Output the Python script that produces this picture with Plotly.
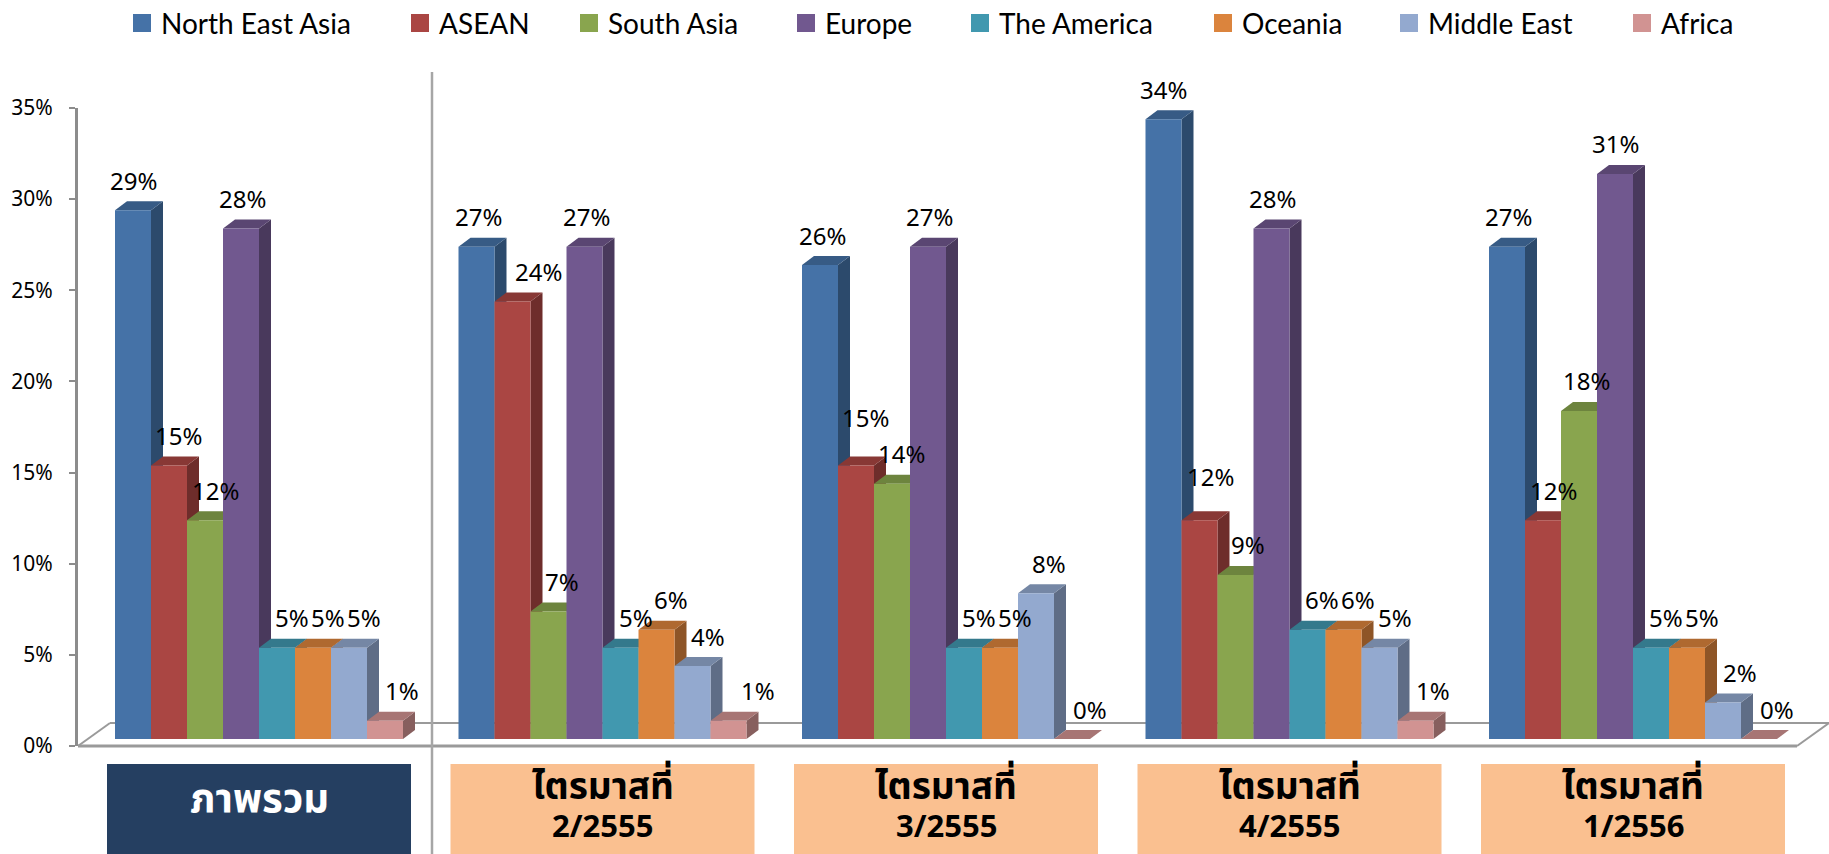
import plotly.graph_objects as go

# ---- data -------------------------------------------------------------
category_titles = ["ภาพรวม", "ไตรมาสที่", "ไตรมาสที่", "ไตรมาสที่", "ไตรมาสที่"]
category_periods = ["", "2/2555", "3/2555", "4/2555", "1/2556"]
regions = ["North East Asia", "ASEAN", "South Asia", "Europe",
           "The America", "Oceania", "Middle East", "Africa"]

north_east_asia = [29, 27, 26, 34, 27]
asean = [15, 24, 15, 12, 12]
south_asia = [12, 7, 14, 9, 18]
europe = [28, 27, 27, 28, 31]
the_america = [5, 5, 5, 6, 5]
oceania = [5, 6, 5, 6, 5]
middle_east = [5, 4, 8, 5, 2]
africa = [1, 1, 0, 1, 0]

series = [north_east_asia, asean, south_asia, europe,
          the_america, oceania, middle_east, africa]
colors = ["#4572A7", "#AA4643", "#89A54E", "#71588F",
          "#4198AF", "#DB843D", "#93A9CF", "#D19392"]
y_ticks = [0, 5, 10, 15, 20, 25, 30, 35]
y_tick_labels = [f"{t}%" for t in y_ticks]

# ---- layout geometry (pixels) -----------------------------------------
W, H = 1829, 854
L, R, T, B = 78, 1797, 108, 746          # plot area
Y_MAX = 35
PX_PCT = (B - T) / Y_MAX                 # pixels per percentage point
BASE_LIFT = 7                            # bars stand slightly behind the floor's front edge
CAT_STEP = 343.5                         # pixels between category centres
FIRST_CENTER = 259
BAR_PX = 36
DEPTH_X, DEPTH_Y = 12, 9                 # 3-D depth of the bars
X_MIN = (L - FIRST_CENTER) / CAT_STEP
X_MAX = (R - FIRST_CENTER) / CAT_STEP

bar_w = BAR_PX / CAT_STEP
group_w = bar_w * len(series)
dx = DEPTH_X / CAT_STEP
dy = DEPTH_Y / PX_PCT

# hand-placed value labels that were moved clear of their neighbours (px)
LABEL_NUDGE = {(1, "ASEAN"): (22, 0), (1, "Africa"): (12, 0),
               (2, "ASEAN"): (0, 18), (3, "ASEAN"): (0, 14)}

THAI_FONT = "Noto Sans Thai, Tahoma, Noto Sans, sans-serif"
LABEL_FONT = "Noto Sans, DejaVu Sans, sans-serif"


def px_x(px):
    return (px - L) / (R - L)


def px_y(py):
    return (B - py) / (B - T)


def darker(hex_color, k):
    h = hex_color.lstrip("#")
    r, g, b = (int(h[i:i + 2], 16) for i in (0, 2, 4))
    return "#{:02X}{:02X}{:02X}".format(int(r * k), int(g * k), int(b * k))


def label_lean(v):
    # perspective: labels of short bars sit further toward the bar's right
    return max(0.0, 18 - 0.6 * v)


fig = go.Figure()
shapes = []
annotations = []

# floor of the 3-D plot
floor = "M {} {} L {} {} L {} {} L {} {} Z".format(
    px_x(L), px_y(B), px_x(L + 32), px_y(723),
    px_x(W), px_y(723), px_x(R), px_y(B))
shapes.append(dict(type="path", xref="paper", yref="paper", path=floor,
                   fillcolor="white", line=dict(width=0), layer="below"))
for (a, b_), (c, d), wdt in [((L, B), (L + 32, 723), 2),
                             ((L + 32, 723), (W, 723), 2),
                             ((R, B), (W, 723), 2),
                             ((L, B), (R, B), 3)]:
    shapes.append(dict(type="line", xref="paper", yref="paper",
                       x0=px_x(a), y0=px_y(b_), x1=px_x(c), y1=px_y(d),
                       line=dict(color="#9A9A9A", width=wdt), layer="below"))

x_idx = list(range(len(category_titles)))

# invisible anchor trace so the percentage axis is drawn
fig.add_trace(go.Scatter(x=[0], y=[0], mode="markers",
                         marker=dict(opacity=0), hoverinfo="skip",
                         showlegend=False, yaxis="y"))

for j, (name, vals, col) in enumerate(zip(regions, series, colors)):
    off = -group_w / 2 + j * bar_w
    fig.add_trace(go.Bar(
        x=x_idx, y=vals, width=bar_w, offset=off, name=name,
        marker=dict(color=col, line=dict(width=0)),
        yaxis="y2", showlegend=False,
        hovertemplate=name + ": %{y}%<extra></extra>"))

# side and top faces of every bar, drawn behind the front faces
for c in x_idx:
    for j, (name, vals, col) in enumerate(zip(regions, series, colors)):
        v = vals[c]
        x0 = c - group_w / 2 + j * bar_w
        x1 = x0 + bar_w
        side = "M {} {} L {} {} L {} {} L {} {} Z".format(
            x1, 0, x1, v, x1 + dx, v + dy, x1 + dx, dy)
        top = "M {} {} L {} {} L {} {} L {} {} Z".format(
            x0, v, x1, v, x1 + dx, v + dy, x0 + dx, v + dy)
        shapes.append(dict(type="path", xref="x", yref="y2", path=side,
                           fillcolor=darker(col, 0.65), line=dict(width=0),
                           layer="below"))
        shapes.append(dict(type="path", xref="x", yref="y2", path=top,
                           fillcolor=darker(col, 0.8), line=dict(width=0),
                           layer="below"))
        nx, ny = LABEL_NUDGE.get((c, name), (0, 0))
        annotations.append(dict(
            x=x0 + bar_w / 2, y=v, xref="x", yref="y2", text=f"{v}%",
            showarrow=False, xshift=label_lean(v) + nx, yshift=30 + ny,
            font=dict(family=LABEL_FONT, size=24, color="black")))

# category boxes below the floor
half_box = 152 / CAT_STEP
for c, (title, period) in enumerate(zip(category_titles, category_periods)):
    overall = period == ""
    shapes.append(dict(type="rect", xref="x", yref="paper",
                       x0=c - half_box, x1=c + half_box,
                       y0=px_y(854), y1=px_y(764),
                       fillcolor="#253F61" if overall else "#FAC090",
                       line=dict(width=0), layer="above"))
    if overall:
        annotations.append(dict(
            x=c, y=px_y(800), xref="x", yref="paper",
            text=f"<b>{title}</b>", showarrow=False, yanchor="middle",
            font=dict(family=THAI_FONT, size=40, color="white")))
    else:
        annotations.append(dict(
            x=c, y=px_y(817), xref="x", yref="paper",
            text=f"<b>{title}</b>", showarrow=False, yanchor="bottom",
            borderpad=0,
            font=dict(family=THAI_FONT, size=37, color="black")))
        annotations.append(dict(
            x=c, y=px_y(803), xref="x", yref="paper",
            text=f"<b>{period}</b>", showarrow=False, yanchor="top",
            borderpad=0,
            font=dict(family=THAI_FONT, size=31, color="black")))

# divider between the overall block and the quarterly block
shapes.append(dict(type="line", xref="paper", yref="paper",
                   x0=px_x(432), x1=px_x(432), y0=px_y(72), y1=px_y(H),
                   line=dict(color="#A6A6A6", width=2.5), layer="above"))

# legend row
legend_left = [133, 411, 580, 797, 971, 1214, 1400, 1633]
for name, col, sx in zip(regions, colors, legend_left):
    shapes.append(dict(type="rect", xref="paper", yref="paper",
                       x0=px_x(sx), x1=px_x(sx + 18),
                       y0=px_y(32), y1=px_y(14),
                       fillcolor=col, line=dict(width=0)))
    annotations.append(dict(
        x=px_x(sx + 26), y=px_y(23), xref="paper", yref="paper",
        text=name, showarrow=False, xanchor="left", yanchor="middle",
        font=dict(family="Lato, Noto Sans, sans-serif", size=28,
                  color="black")))

fig.update_layout(
    width=W, height=H,
    margin=dict(l=L, r=W - R, t=T, b=H - B, pad=0),
    paper_bgcolor="white", plot_bgcolor="rgba(0,0,0,0)",
    barmode="overlay",
    showlegend=False,
    xaxis=dict(range=[X_MIN, X_MAX], visible=False, fixedrange=True),
    yaxis=dict(range=[0, Y_MAX], tickmode="array", tickvals=y_ticks,
               ticktext=y_tick_labels,
               showgrid=False, zeroline=False,
               showline=True, linecolor="#8C8C8C", linewidth=3,
               ticks="outside", ticklen=6, tickwidth=2, tickcolor="#8C8C8C",
               ticklabelstandoff=12,
               tickfont=dict(family=LABEL_FONT, size=21, color="black")),
    yaxis2=dict(range=[-BASE_LIFT / PX_PCT, Y_MAX - BASE_LIFT / PX_PCT],
                overlaying="y", visible=False),
    shapes=shapes,
    annotations=annotations,
)

fig.write_html("out.html")
